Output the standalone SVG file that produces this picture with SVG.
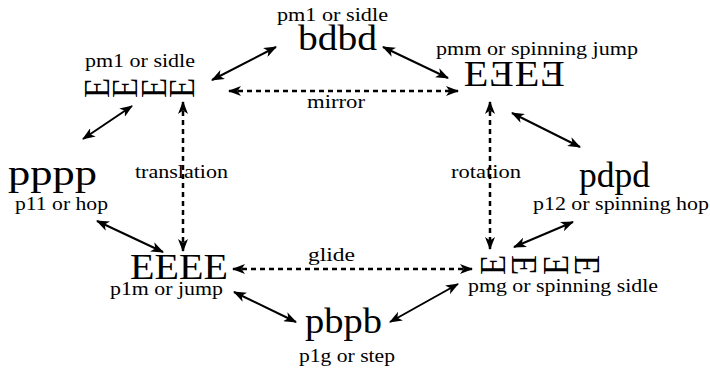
<svg xmlns="http://www.w3.org/2000/svg" width="710" height="372" viewBox="0 0 710 372" font-family="'Liberation Serif', Tinos, 'Times New Roman', Times, serif">
<defs>
<marker id="ah" viewBox="0 0 13 10" refX="12" refY="5" markerWidth="13" markerHeight="10" markerUnits="userSpaceOnUse" orient="auto-start-reverse"><path d="M0,0 L13,5 L0,10 L3.5,5 z" fill="#000"/></marker>
</defs>
<style>
text{font-family:'Liberation Serif', Tinos, 'Times New Roman', Times, serif;fill:#000}
.s{font-size:19.5px}
.b{font-size:35px}
.g{font-size:33px}
.ln{stroke:#000;stroke-width:2;fill:none;marker-start:url(#ah);marker-end:url(#ah)}
.d{stroke-dasharray:5,4;stroke-width:2.5}
</style>
<rect width="710" height="372" fill="#fff"/>
<g id="n-sidle-top">
<text class="s" x="332.5" y="21" text-anchor="middle" textLength="111" lengthAdjust="spacingAndGlyphs">pm1 or sidle</text>
<text class="b" x="337.5" y="50" text-anchor="middle" textLength="79" lengthAdjust="spacingAndGlyphs">bdbd</text>
</g>
<g id="n-sidle-left">
<text class="s" x="140" y="67" text-anchor="middle" textLength="110" lengthAdjust="spacingAndGlyphs">pm1 or sidle</text>
<text class="g" transform="translate(97,88) scale(1.1,1) rotate(-90)" x="0" y="11" text-anchor="middle">E</text>
<text class="g" transform="translate(125,88) scale(1.1,1) rotate(-90)" x="0" y="11" text-anchor="middle">E</text>
<text class="g" transform="translate(153.5,88) scale(1.1,1) rotate(-90)" x="0" y="11" text-anchor="middle">E</text>
<text class="g" transform="translate(182,88) scale(1.1,1) rotate(-90)" x="0" y="11" text-anchor="middle">E</text>
</g>
<g id="n-pmm">
<text class="s" x="537" y="55" text-anchor="middle" textLength="202" lengthAdjust="spacingAndGlyphs">pmm or spinning jump</text>
<text class="b" transform="translate(476,86) scale(1.15,1)" x="0" y="0" text-anchor="middle">E</text>
<text class="b" transform="translate(501.5,86) scale(-1.15,1)" x="0" y="0" text-anchor="middle">E</text>
<text class="b" transform="translate(527,86) scale(1.15,1)" x="0" y="0" text-anchor="middle">E</text>
<text class="b" transform="translate(552.5,86) scale(-1.15,1)" x="0" y="0" text-anchor="middle">E</text>
</g>
<g id="n-p11">
<text class="b" x="52.5" y="185" text-anchor="middle" textLength="89" lengthAdjust="spacingAndGlyphs">pppp</text>
<text class="s" x="61.5" y="210" text-anchor="middle" textLength="93" lengthAdjust="spacingAndGlyphs">p11 or hop</text>
</g>
<g id="n-p12">
<text class="b" x="614.5" y="187" text-anchor="middle" textLength="71" lengthAdjust="spacingAndGlyphs">pdpd</text>
<text class="s" x="621" y="210" text-anchor="middle" textLength="176" lengthAdjust="spacingAndGlyphs">p12 or spinning hop</text>
</g>
<g id="n-p1m">
<text class="b" x="179" y="279" text-anchor="middle" textLength="98" lengthAdjust="spacingAndGlyphs">EEEE</text>
<text class="s" x="166.5" y="295" text-anchor="middle" textLength="113" lengthAdjust="spacingAndGlyphs">p1m or jump</text>
</g>
<g id="n-p1g">
<text class="b" x="343.5" y="333" text-anchor="middle" textLength="77" lengthAdjust="spacingAndGlyphs">pbpb</text>
<text class="s" x="347" y="362" text-anchor="middle" textLength="96" lengthAdjust="spacingAndGlyphs">p1g or step</text>
</g>
<g id="n-pmg">
<text class="g" transform="translate(493,265) scale(1.1,1) rotate(-90)" x="0" y="11" text-anchor="middle">E</text>
<text class="g" transform="translate(524,265) scale(1.1,1) rotate(90)" x="0" y="11" text-anchor="middle">E</text>
<text class="g" transform="translate(555.5,265) scale(1.1,1) rotate(-90)" x="0" y="11" text-anchor="middle">E</text>
<text class="g" transform="translate(587,265) scale(1.1,1) rotate(90)" x="0" y="11" text-anchor="middle">E</text>
<text class="s" x="563" y="292" text-anchor="middle" textLength="190" lengthAdjust="spacingAndGlyphs">pmg or spinning sidle</text>
</g>
<g id="labels">
<text class="s" x="336" y="108" text-anchor="middle" textLength="58" lengthAdjust="spacingAndGlyphs">mirror</text>
<text class="s" x="181.5" y="178" text-anchor="middle" textLength="93" lengthAdjust="spacingAndGlyphs">translation</text>
<text class="s" x="486" y="178" text-anchor="middle" textLength="70" lengthAdjust="spacingAndGlyphs">rotation</text>
<text class="s" x="331.5" y="261" text-anchor="middle" textLength="47" lengthAdjust="spacingAndGlyphs">glide</text>
</g>
<g id="connectors">
<line class="ln" x1="212" y1="80" x2="276" y2="47"/>
<line class="ln" x1="383" y1="47" x2="448" y2="78"/>
<line class="ln d" x1="229" y1="91" x2="458" y2="91"/>
<line class="ln d" x1="183" y1="102" x2="183" y2="251"/>
<line class="ln d" x1="490" y1="102" x2="490" y2="249"/>
<line class="ln" x1="132" y1="106" x2="83" y2="139"/>
<line class="ln" x1="97" y1="221" x2="163" y2="252"/>
<line class="ln d" x1="233" y1="269" x2="472" y2="269"/>
<line class="ln" x1="234" y1="292" x2="296" y2="322"/>
<line class="ln" x1="390" y1="322" x2="458" y2="284"/>
<line class="ln" x1="514" y1="247" x2="573" y2="222"/>
<line class="ln" x1="512" y1="113" x2="580" y2="147"/>
</g>
</svg>
